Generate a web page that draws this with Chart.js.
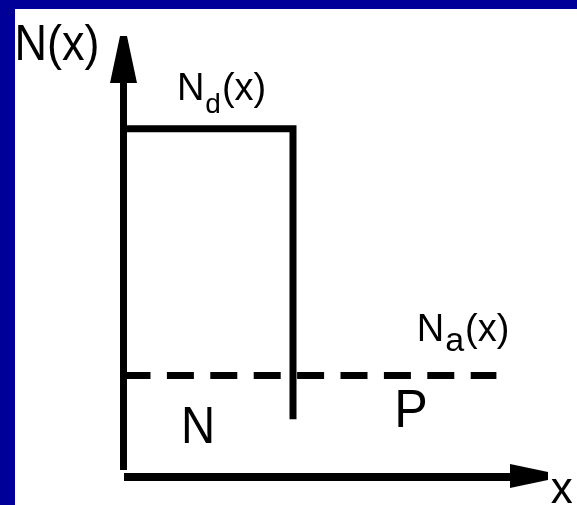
<!DOCTYPE html>
<html>
<head>
<meta charset="utf-8">
<script src="https://cdn.jsdelivr.net/npm/chart.js@4"></script>
<style>
  html, body { margin: 0; padding: 0; background: #fff; overflow: hidden; }
  canvas { display: block; }
</style>
</head>
<body>
<canvas id="myChart" width="577" height="505"></canvas>
<script>
// doping profile of an abrupt p-n junction (arbitrary units, junction at x = 1)
const donorX = [0, 1, 1];
const donorY = [3.43, 3.43, 0.57];
const acceptorX = [0, 2.2];
const acceptorY = [1, 1];
const axisX = [0.003, 2.3];      // horizontal axis, y = 0
const axisY = [0.069, 4.0];      // vertical axis, x = 0
const arrowTips = { x: 2.392, y: 4.113 };
const axisTitles = ['N(x)', 'x'];
const regionNames = ['N', 'P'];
const profileNames = [['N', 'd', '(x)'], ['N', 'a', '(x)']];

const BLUE = '#000099';
const FONT = '"Liberation Sans", Arial, sans-serif';

function pts(xs, ys) {
  return xs.map((x, i) => ({ x: x, y: ys[i] }));
}

function makeArrow(len, base, tip) {
  const c = document.createElement('canvas');
  c.width = base;
  c.height = len;
  const g = c.getContext('2d');
  g.fillStyle = '#000';
  g.beginPath();
  g.moveTo((base - tip) / 2, 0);
  g.lineTo((base + tip) / 2, 0);
  g.lineTo(base, len);
  g.lineTo(0, len);
  g.closePath();
  g.fill();
  return c;
}

const frame = {
  id: 'frame',
  beforeDraw(chart) {
    const ctx = chart.ctx;
    ctx.save();
    ctx.fillStyle = '#fff';
    ctx.fillRect(0, 0, chart.width, chart.height);
    ctx.fillStyle = BLUE;
    ctx.fillRect(0, 0, chart.width, 9);
    ctx.fillRect(0, 0, 15, chart.height);
    ctx.restore();
  }
};

const texts = {
  id: 'texts',
  afterDraw(chart) {
    const ctx = chart.ctx;
    const sx = chart.scales.x, sy = chart.scales.y;
    const X = v => sx.getPixelForValue(v);
    const Y = v => sy.getPixelForValue(v);

    function put(t, x, y, size, squeeze) {
      ctx.save();
      ctx.font = size + 'px ' + FONT;
      ctx.translate(x, y);
      ctx.scale(squeeze || 1, 1);
      ctx.fillText(t, 0, 0);
      ctx.restore();
    }

    function sub(parts, x, y, size, subSize, drop) {
      ctx.font = size + 'px ' + FONT;
      put(parts[0], x, y, size);
      let cx = x + ctx.measureText(parts[0]).width + 1;
      ctx.font = subSize + 'px ' + FONT;
      put(parts[1], cx, y + drop, subSize);
      cx += ctx.measureText(parts[1]).width + 1;
      put(parts[2], cx, y, size);
    }

    ctx.save();
    ctx.fillStyle = '#000';
    ctx.textBaseline = 'alphabetic';
    ctx.textAlign = 'left';

    put(axisTitles[0], X(-0.643), Y(4.108), 50, 0.9);
    put(axisTitles[1], X(2.52), Y(-0.256), 44);
    put(regionNames[0], X(0.339), Y(0.335), 52, 0.91);
    put(regionNames[1], X(1.597), Y(0.493), 54, 0.93);

    sub(profileNames[0], X(0.315), Y(3.714), 38, 28, 13);
    sub(profileNames[1], X(1.73), Y(1.335), 38, 34, 10);
    ctx.restore();
  }
};

const line = {
  showLine: true,
  pointRadius: 0,
  borderColor: '#000',
  backgroundColor: '#000',
  fill: false,
  tension: 0,
  clip: false,
  borderCapStyle: 'butt',
  borderJoinStyle: 'miter'
};

new Chart(document.getElementById('myChart'), {
  type: 'scatter',
  data: {
    datasets: [
      Object.assign({}, line, { label: 'Nd', data: pts(donorX, donorY), borderWidth: 7 }),
      Object.assign({}, line, { label: 'Na', data: pts(acceptorX, acceptorY), borderWidth: 7,
        borderDash: [27, 16.4] }),
      Object.assign({}, line, { label: 'x axis', data: pts(axisX, [0, 0]), borderWidth: 8 }),
      Object.assign({}, line, { label: 'y axis', data: pts([0, 0], axisY), borderWidth: 7 }),
      { label: 'y arrow', data: [{ x: 0, y: arrowTips.y }], pointStyle: makeArrow(47, 27, 7),
        pointRadius: 10, clip: false },
      { label: 'x arrow', data: [{ x: arrowTips.x, y: 0.01 }], pointStyle: makeArrow(38, 24, 8),
        pointRadius: 10, pointRotation: 90, clip: false }
    ]
  },
  options: {
    responsive: false,
    animation: false,
    devicePixelRatio: 1,
    layout: { padding: 0, autoPadding: false },
    plugins: { legend: { display: false }, tooltip: { enabled: false } },
    scales: {
      x: { type: 'linear', display: false, min: -0.7286, max: 2.6755 },
      y: { type: 'linear', display: false, min: -0.2759, max: 4.6995 }
    }
  },
  plugins: [frame, texts]
});
</script>
</body>
</html>
